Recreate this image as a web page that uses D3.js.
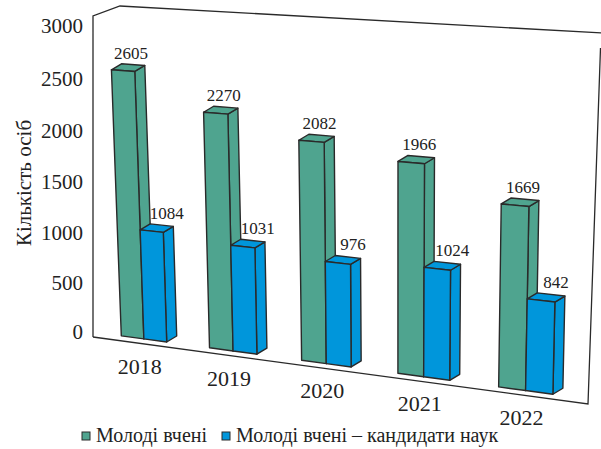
<!DOCTYPE html>
<html>
<head>
<meta charset="utf-8">
<script src="https://cdn.jsdelivr.net/npm/d3@7"></script>
<style>
  body { margin: 0; background: #fff; }
  svg text { font-family: 'Liberation Serif', serif; fill: #222; }
</style>
</head>
<body>
<div id="chart"></div>
<script>
// data
var years = ['2018', '2019', '2020', '2021', '2022'];
var young = [2605, 2270, 2082, 1966, 1669];      // Молоді вчені
var phd = [1084, 1031, 976, 1024, 842];          // ... кандидати наук
var yTicks = [0, 500, 1000, 1500, 2000, 2500, 3000];
var seriesNames = ['Молоді вчені', 'Молоді вчені – кандидати наук'];
var colors = ['#4fa48f', '#0096db'];

var w = 601, h = 449;
var svg = d3.select('#chart')
    .append('svg')
    .attr('width', w)
    .attr('height', h)
    .attr('font-family', 'Liberation Serif, serif');

// flat chart coords go 0..1 both ways, then get warped to the tilted plane
var x0 = d3.scaleBand().domain(years).range([0, 1]).paddingInner(0.48).paddingOuter(0.33);
var x1 = d3.scaleBand().domain([0, 1]).range([0, x0.bandwidth()]);
var y = d3.scaleLinear().domain([0, 3000]).range([0, 1]);

// corners of the plane: (0,0) (1,0) (1,1) (0,1)
var quad = [[93, 332], [588, 399], [597, 57], [80.5, 26]];

function makeWarp(q) {
    var sx = q[0][0] - q[1][0] + q[2][0] - q[3][0];
    var sy = q[0][1] - q[1][1] + q[2][1] - q[3][1];
    var dx1 = q[1][0] - q[2][0], dx2 = q[3][0] - q[2][0];
    var dy1 = q[1][1] - q[2][1], dy2 = q[3][1] - q[2][1];
    var den = dx1 * dy2 - dx2 * dy1;
    var g = (sx * dy2 - dx2 * sy) / den;
    var k = (dx1 * sy - sx * dy1) / den;
    var a = q[1][0] - q[0][0] + g * q[1][0], b = q[3][0] - q[0][0] + k * q[3][0], c = q[0][0];
    var d = q[1][1] - q[0][1] + g * q[1][1], e = q[3][1] - q[0][1] + k * q[3][1], f = q[0][1];
    return function(u, v) {
        var z = g * u + k * v + 1;
        return [(a * u + b * v + c) / z, (d * u + e * v + f) / z];
    };
}
var P = makeWarp(quad);

var depth = [10, -6];
var stroke = '#2a2a2a';
function shift(p) { return [p[0] + depth[0], p[1] + depth[1]]; }
var line = d3.line();

// frame (walls)
var frame = [[93, 337], [93, 16], [120, 6], [602, 33]];
svg.append('path')
    .attr('d', line(frame))
    .attr('fill', 'none').attr('stroke', stroke).attr('stroke-width', 1.3);
svg.append('path')
    .attr('d', line([[600.5, 48], [588, 404], [93, 337]]))
    .attr('fill', 'none').attr('stroke', stroke).attr('stroke-width', 1.3);

// y tick labels
svg.selectAll('.ytick')
    .data(yTicks)
    .enter()
    .append('text')
    .attr('class', 'ytick')
    .attr('x', 83)
    .attr('y', function(d) { return P(0, y(d))[1]; })
    .attr('dy', '0.35em')
    .attr('text-anchor', 'end')
    .style('font-size', '21px')
    .text(function(d) { return d; });

// y title
svg.append('text')
    .attr('transform', 'translate(31,183)rotate(-90)')
    .attr('text-anchor', 'middle')
    .style('font-size', '21px')
    .text('Кількість осіб');

// bars
var labelShift = [8, 15];
years.forEach(function(yr, i) {
    [young[i], phd[i]].forEach(function(val, s) {
        var u0 = x0(yr) + x1(s), u1 = u0 + x1.bandwidth();
        var v = y(val);
        var bl = P(u0, 0), br = P(u1, 0), tr = P(u1, v), tl = P(u0, v);
        var g = svg.append('g')
            .attr('fill', colors[s])
            .attr('stroke', stroke)
            .attr('stroke-width', 1.4)
            .attr('stroke-linejoin', 'round');
        g.append('path').attr('d', line([br, shift(br), shift(tr), tr]) + 'Z');
        g.append('path').attr('d', line([tl, tr, shift(tr), shift(tl)]) + 'Z');
        g.append('path').attr('d', line([bl, br, tr, tl]) + 'Z');

        svg.append('text')
            .attr('x', (tl[0] + tr[0]) / 2 + labelShift[s])
            .attr('y', tl[1] - 17)
            .attr('dy', '0.35em')
            .attr('text-anchor', 'middle')
            .style('font-size', '17px')
            .text(val);
    });
    // year label under the group
    var mid = P(x0(yr) + x0.bandwidth() / 2, 0);
    svg.append('text')
        .attr('x', mid[0] - 4)
        .attr('y', mid[1] + 27)
        .attr('dy', '0.35em')
        .attr('text-anchor', 'middle')
        .style('font-size', '22px')
        .text(yr);
});

// legend
var legX = [82, 222];
seriesNames.forEach(function(name, s) {
    svg.append('rect')
        .attr('x', legX[s]).attr('y', 432)
        .attr('width', 8).attr('height', 8)
        .attr('fill', colors[s])
        .attr('stroke', stroke).attr('stroke-width', 1);
    svg.append('text')
        .attr('x', legX[s] + 14)
        .attr('y', 442)
        .style('font-size', '20px')
        .text(name);
});
</script>
</body>
</html>
